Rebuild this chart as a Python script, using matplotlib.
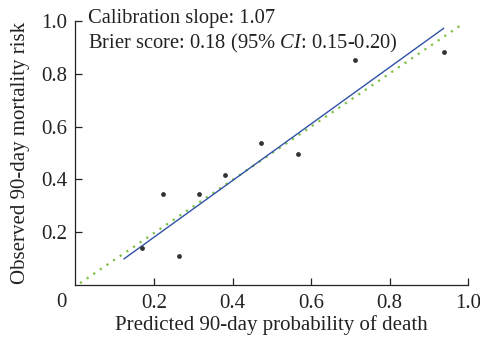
import matplotlib
matplotlib.use("Agg")
import matplotlib.pyplot as plt

# ── Dados ─────────────────────────────────────────────────────────────────
pred = [0.169, 0.222, 0.264, 0.314, 0.381, 0.473, 0.567, 0.712, 0.939]
obs = [0.141, 0.344, 0.111, 0.344, 0.416, 0.537, 0.496, 0.851, 0.881]

fit_x = [0.124, 0.937]
fit_y = [0.100, 0.971]

ideal_x = [0.012, 0.979]
ideal_y = [0.008, 0.981]

ticks = [0.2, 0.4, 0.6, 0.8, 1.0]
tick_labels = ["0.2", "0.4", "0.6", "0.8", "1.0"]

plt.rcParams["font.family"] = ["Liberation Serif", "DejaVu Serif"]
plt.rcParams["mathtext.fontset"] = "custom"
plt.rcParams["mathtext.rm"] = "Liberation Serif"
plt.rcParams["mathtext.it"] = "Liberation Serif:italic"

FS = 15
TXT = "#222222"

fig = plt.figure(figsize=(4.81, 3.38), dpi=100)
ax = fig.add_axes([0.1566, 0.156, 0.8171, 0.7828])

ax.plot(ideal_x, ideal_y, linestyle=(0, (1, 2.6)), color="#7cc243",
        linewidth=1.6, zorder=2)
ax.plot(fit_x, fit_y, color="#2f52a6", linewidth=1.0, zorder=3)
ax.scatter(pred, obs, s=12, color="#333333", zorder=4, linewidths=0)

ax.set_xlim(0, 1)
ax.set_ylim(0, 1)
ax.set_xticks(ticks)
ax.set_xticklabels(tick_labels)
ax.set_yticks(ticks)
ax.set_yticklabels(tick_labels)
ax.tick_params(direction="in", length=5, width=0.9, labelsize=FS,
               colors=TXT, pad=6)
for s in ["top", "right"]:
    ax.spines[s].set_visible(False)
for s in ["left", "bottom"]:
    ax.spines[s].set_linewidth(0.9)
    ax.spines[s].set_color(TXT)

ax.text(-0.022, -0.065, "0", transform=ax.transAxes, fontsize=FS,
        ha="right", va="center", color=TXT)

ax.set_xlabel("Predicted 90-day probability of death", fontsize=FS,
              color=TXT, labelpad=2)
ax.set_ylabel("Observed 90-day mortality risk", fontsize=FS,
              color=TXT, labelpad=8)

ax.text(0.033, 1.01, "Calibration slope: 1.07", transform=ax.transAxes,
        fontsize=14.8, ha="left", va="center", color=TXT)
ax.text(0.033, 0.915, r"Brier score: 0.18 (95% $\mathit{CI}$: 0.15-0.20)",
        transform=ax.transAxes, fontsize=14.8, ha="left", va="center",
        color=TXT)

fig.savefig("out.png", dpi=100)
